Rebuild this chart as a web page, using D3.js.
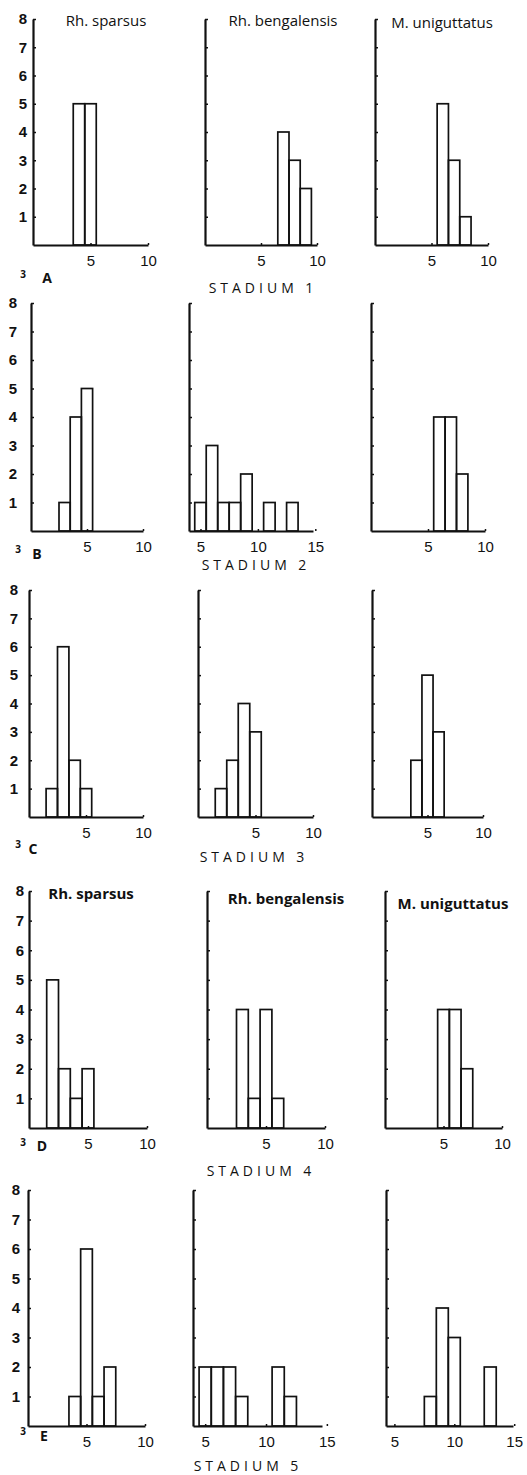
<!DOCTYPE html>
<html>
<head>
<meta charset="utf-8">
<script src="https://cdn.jsdelivr.net/npm/d3@7"></script>
<style>
  html, body { margin: 0; padding: 0; background: #fff; }
  svg { display: block; }
  text { fill: #111; }
</style>
</head>
<body>
<script>
// ---------------- DATA ----------------
const species = ["Rh. sparsus", "Rh. bengalensis", "M. uniguttatus"];
const stadia = ["STADIUM 1", "STADIUM 2", "STADIUM 3", "STADIUM 4", "STADIUM 5"];
const figLetters = ["A", "B", "C", "D", "E"];
const figNumber = "3";
const yTickValues = [1, 2, 3, 4, 5, 6, 7, 8];

// length classes (bar centres) and counts, per stadium and species
const st1SparsusLen = [4, 5];             const st1SparsusN = [5, 5];
const st1BengalLen  = [7, 8, 9];          const st1BengalN  = [4, 3, 2];
const st1UnigutLen  = [6, 7, 8];          const st1UnigutN  = [5, 3, 1];

const st2SparsusLen = [3, 4, 5];          const st2SparsusN = [1, 4, 5];
const st2BengalLen  = [5, 6, 7, 8, 9, 11, 13]; const st2BengalN = [1, 3, 1, 1, 2, 1, 1];
const st2UnigutLen  = [6, 7, 8];          const st2UnigutN  = [4, 4, 2];

const st3SparsusLen = [2, 3, 4, 5];       const st3SparsusN = [1, 6, 2, 1];
const st3BengalLen  = [2, 3, 4, 5];       const st3BengalN  = [1, 2, 4, 3];
const st3UnigutLen  = [4, 5, 6];          const st3UnigutN  = [2, 5, 3];

const st4SparsusLen = [2, 3, 4, 5];       const st4SparsusN = [5, 2, 1, 2];
const st4BengalLen  = [3, 4, 5, 6];       const st4BengalN  = [4, 1, 4, 1];
const st4UnigutLen  = [5, 6, 7];          const st4UnigutN  = [4, 4, 2];

const st5SparsusLen = [4, 5, 6, 7];       const st5SparsusN = [1, 6, 1, 2];
const st5BengalLen  = [5, 6, 7, 8, 11, 12]; const st5BengalN = [2, 2, 2, 1, 2, 1];
const st5UnigutLen  = [8, 9, 10, 13];     const st5UnigutN  = [1, 4, 3, 2];

// x tick labels per panel
const xTicksStd = [5, 10];
const xTicksWide = [5, 10, 15];

const panelData = [
  [[st1SparsusLen, st1SparsusN], [st1BengalLen, st1BengalN], [st1UnigutLen, st1UnigutN]],
  [[st2SparsusLen, st2SparsusN], [st2BengalLen, st2BengalN], [st2UnigutLen, st2UnigutN]],
  [[st3SparsusLen, st3SparsusN], [st3BengalLen, st3BengalN], [st3UnigutLen, st3UnigutN]],
  [[st4SparsusLen, st4SparsusN], [st4BengalLen, st4BengalN], [st4UnigutLen, st4UnigutN]],
  [[st5SparsusLen, st5SparsusN], [st5BengalLen, st5BengalN], [st5UnigutLen, st5UnigutN]]
];
const panelXTicks = [
  [xTicksStd, xTicksStd, xTicksStd],
  [xTicksStd, xTicksWide, xTicksStd],
  [xTicksStd, xTicksStd, xTicksStd],
  [xTicksStd, xTicksStd, xTicksStd],
  [xTicksStd, xTicksWide, xTicksWide]
];
const panelXDomain = [
  [[0, 10], [0, 10], [0, 10]],
  [[0, 10], [4, 14.8], [0, 10]],
  [[0, 10], [0, 10], [0, 10]],
  [[0, 10], [0, 10], [0, 10]],
  [[0, 10], [4, 14.6], [4.3, 14.9]]
];

// ---------------- LAYOUT ----------------
const W = 527, H = 1475;
const rowBase = [245, 531, 817, 1128, 1426];
const rowTop  = [19, 303, 590, 891, 1190];
const colRange = [
  [[33, 148], [205, 317], [375, 488]],
  [[31, 143], [189, 313], [371, 485]],
  [[29, 143], [198, 313], [372, 483]],
  [[29, 147], [207, 325], [385, 502]],
  [[28, 145], [193, 322], [386, 513]]
];
const yLabelPad = [6, 14, 11, 5, 8];
const titleRows = [0, 3];
const titlePos = {
  0: [[106, 20], [283, 20], [442, 22]],
  3: [[91, 893], [286, 898], [453, 903]]
};
const titleWeight = { 0: 400, 3: 700 };
const stadiumPos = [[263, 287], [256, 564], [254, 856], [261, 1170], [248, 1465]];
const figNumPos = [[23, 274], [18, 549], [18, 844], [23, 1142], [23, 1431]];
const figLetPos = [[47, 277], [37, 553], [33, 848], [42, 1145], [44, 1435]];

const svg = d3.select("body").append("svg")
  .attr("width", W).attr("height", H)
  .style("font-family", "'Open Sans', 'DejaVu Sans', sans-serif");

svg.append("rect").attr("width", W).attr("height", H).attr("fill", "#fff");

panelData.forEach((row, r) => {
  row.forEach((pd, c) => {
    const [lens, counts] = pd;
    const x = d3.scaleLinear().domain(panelXDomain[r][c]).range(colRange[r][c]);
    const y = d3.scaleLinear().domain([0, 8]).range([rowBase[r], rowTop[r]]);
    const g = svg.append("g");

    const bins = lens.map((v, i) => ({ v, n: counts[i] }));
    g.selectAll("rect.bar").data(bins).join("rect")
      .attr("class", "bar")
      .attr("x", d => x(d.v - 0.5))
      .attr("width", d => x(d.v + 0.5) - x(d.v - 0.5))
      .attr("y", d => y(d.n))
      .attr("height", d => y(0) - y(d.n))
      .attr("fill", "none")
      .attr("stroke", "#111")
      .attr("stroke-width", 1.7);

    // y axis
    const yAxis = d3.axisLeft(y)
      .tickValues(yTickValues)
      .tickSizeInner(-3)
      .tickSizeOuter(0)
      .tickPadding(yLabelPad[r])
      .tickFormat(c === 0 ? d3.format("d") : () => "");
    const ya = g.append("g").attr("transform", `translate(${x.range()[0]},0)`).call(yAxis);
    ya.select(".domain").attr("stroke", "#111").attr("stroke-width", 2.2);
    ya.selectAll(".tick line").attr("stroke", "#111").attr("stroke-width", 1.5);
    ya.selectAll(".tick text")
      .attr("font-size", 15).attr("font-weight", 700)
      .attr("fill", "#111");

    // x axis
    const xAxis = d3.axisBottom(x)
      .tickValues(panelXTicks[r][c])
      .tickSizeInner(-2)
      .tickSizeOuter(0)
      .tickPadding(10)
      .tickFormat(d3.format("d"));
    const xa = g.append("g").attr("transform", `translate(0,${rowBase[r]})`).call(xAxis);
    xa.select(".domain").attr("stroke", "#111").attr("stroke-width", 2.2);
    xa.selectAll(".tick line").attr("stroke", "#111").attr("stroke-width", 1.5);
    xa.selectAll(".tick text")
      .attr("font-size", 15).attr("font-weight", 400)
      .attr("fill", "#111");
  });

  // stadium label
  svg.append("text")
    .attr("x", stadiumPos[r][0]).attr("y", stadiumPos[r][1])
    .attr("text-anchor", "middle").attr("dominant-baseline", "central")
    .attr("font-size", 14).attr("letter-spacing", 4)
    .text(stadia[r]);

  // figure label
  svg.append("text")
    .attr("x", figNumPos[r][0]).attr("y", figNumPos[r][1])
    .attr("text-anchor", "middle").attr("dominant-baseline", "central")
    .attr("font-size", 10).attr("font-weight", 700)
    .text(figNumber);
  svg.append("text")
    .attr("x", figLetPos[r][0]).attr("y", figLetPos[r][1])
    .attr("text-anchor", "middle").attr("dominant-baseline", "central")
    .attr("font-size", 14).attr("font-weight", 700)
    .text(figLetters[r]);
});

// species titles
titleRows.forEach(r => {
  species.forEach((s, c) => {
    svg.append("text")
      .attr("x", titlePos[r][c][0]).attr("y", titlePos[r][c][1])
      .attr("text-anchor", "middle").attr("dominant-baseline", "central")
      .attr("font-size", 15).attr("font-weight", titleWeight[r])
      .text(s);
  });
});
</script>
</body>
</html>
